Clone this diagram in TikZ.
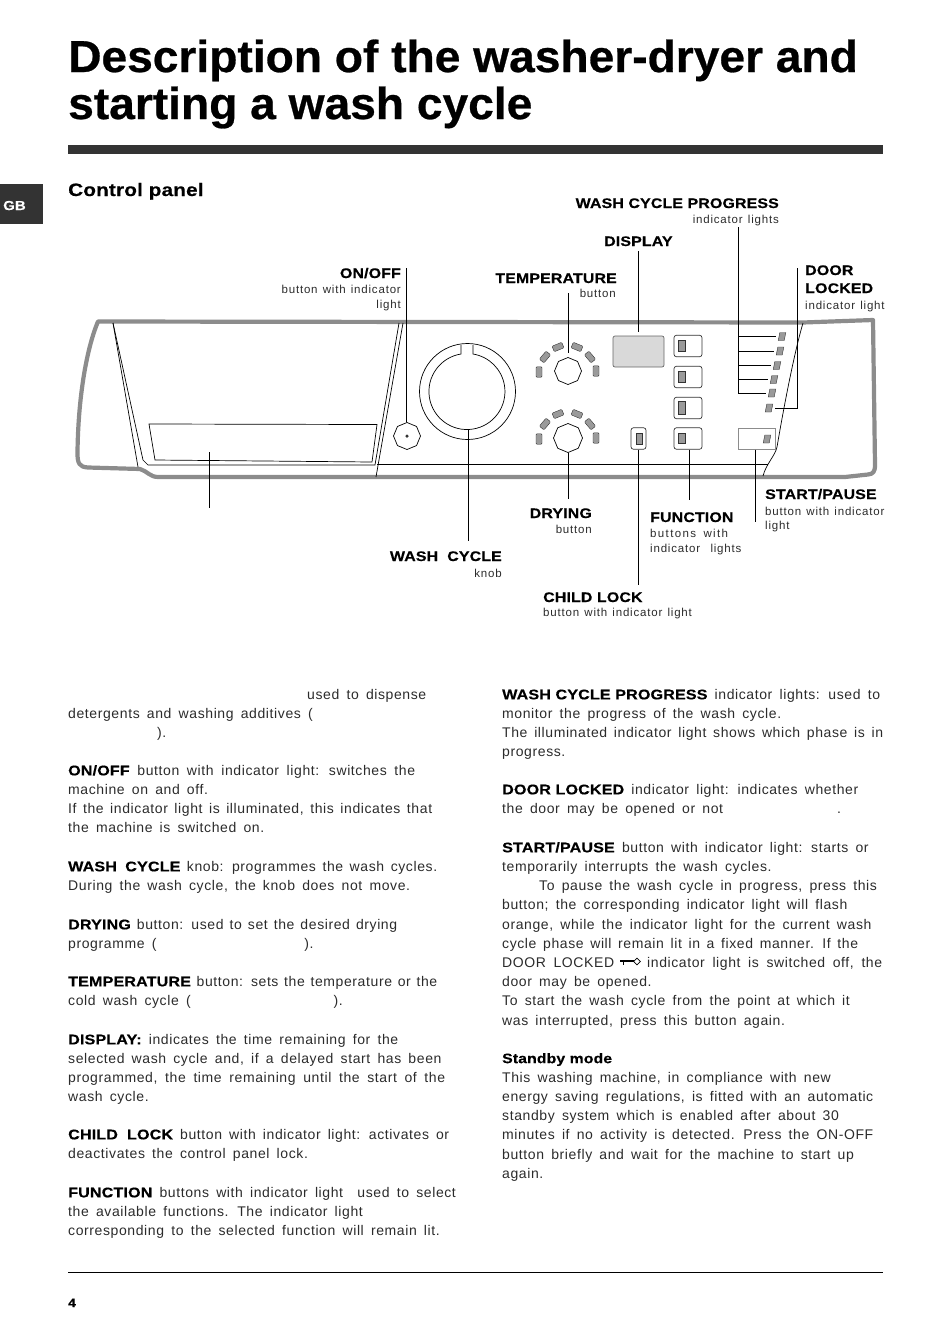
\documentclass[tikz,border=0pt]{standalone}
\usepackage{fontspec}
\usepackage{xcolor}
\usetikzlibrary{shapes.geometric, calc}
\setmainfont{Liberation Sans}
\newfontfamily\bodyfont[LetterSpace=4.3,WordSpace=1.6]{Liberation Sans}
\newfontfamily\subfont[LetterSpace=7,WordSpace=1.3]{Liberation Sans}
\newfontfamily\subwidefont[LetterSpace=12,WordSpace=1.6]{Liberation Sans}
\newfontfamily\widefont[FakeStretch=1.15,LetterSpace=1,FakeBold=.4]{Liberation Sans}
\newfontfamily\titlefont[FakeStretch=1.03,FakeBold=.6]{Liberation Sans}
\definecolor{panelgrey}{HTML}{8C8C8C}
\definecolor{ledgrey}{HTML}{9A9A9A}
\definecolor{displaygrey}{HTML}{D9D9D9}
\definecolor{bardark}{HTML}{333333}
\definecolor{bodytext}{HTML}{2B2B2B}
\newcommand{\hd}[1]{{\widefont\bfseries\color{black}#1}}
\newcommand{\fitline}[2]{\makebox[#1pt][s]{#2}}
\tikzset{
  titletxt/.style={anchor=base west, inner sep=0, font=\fontsize{44.8}{48}\titlefont\bfseries},
  headleft/.style={anchor=base west, inner sep=0, font=\fontsize{13.85}{16}\widefont\bfseries},
  headright/.style={anchor=base east, inner sep=0, font=\fontsize{13.85}{16}\widefont\bfseries},
  subleft/.style={anchor=base west, inner sep=0, text=bodytext, font=\fontsize{11.5}{14}\subfont},
  subright/.style={anchor=base east, inner sep=0, text=bodytext, font=\fontsize{11.5}{14}\subfont},
  subwide/.style={anchor=base west, inner sep=0, text=bodytext, font=\fontsize{11.5}{14}\subwidefont},
  bodytxt/.style={anchor=north west, inner sep=0, align=left, text=bodytext, font=\fontsize{14}{19.2}\bodyfont},
  outline/.style={draw=panelgrey, line width=4.2pt, line join=round},
  thinline/.style={draw=black, line width=.7pt},
  leader/.style={draw=black, line width=.8pt},
  ledbar/.style={draw=black!80, fill=ledgrey, rounded corners=1pt, minimum width=6pt, minimum height=10.5pt, inner sep=0},
  ledslant/.style={draw=black!80, fill=ledgrey, minimum width=6pt, minimum height=8pt, inner sep=0, xslant=.2},
  panelbtn/.style={draw=black!80, rounded corners=2.5pt, line width=.7pt, minimum width=28pt, minimum height=21.5pt, inner sep=0},
  octknob/.style={draw=black, line width=.7pt, regular polygon, regular polygon sides=8, shape border rotate=22.5, inner sep=0},
}
\begin{document}
\begin{tikzpicture}[x=1pt,y=-1pt]
\useasboundingbox (0,0) rectangle (950,1344);
% page head
\node[titletxt] (title1) at (68,72) {Description of the washer-dryer and};
\node[titletxt] (title2) at (68,119) {starting a wash cycle};
\fill[bardark] (68,145) rectangle (883,154);
\fill[bardark] (0,184) rectangle (43,224);
\node[anchor=base west, text=white, inner sep=0, font=\fontsize{13}{14}\widefont\bfseries] (tab) at (3,210) {GB};
\node[anchor=base west, inner sep=0, font=\fontsize{18}{20}\widefont\bfseries] (paneltitle) at (68,196) {Control panel};
% panel outline
\draw[outline] (98,321.5) .. controls (86,350) and (78,400) .. (77.5,453)
  .. controls (77.5,463) and (79,467) .. (88,467.5) -- (140,469)
  .. controls (147,471) and (150,477) .. (158,477) -- (845,477)
  -- (868,474.5) .. controls (873,474) and (875,472) .. (875,465) -- (873,320) -- (803,322.5) -- cycle;
% drawer
\draw[thinline] (113,323) -- (138,467);
\draw[thinline] (113,323) -- (143,460) -- (148,465) -- (375,465) -- (399,323);
\draw[thinline] (403,323) -- (376,477);
\draw[thinline] (149,424) -- (377,424.5) -- (372,462) -- (155,460) -- cycle;
\draw[thinline] (377,464) -- (768,464);
\draw[thinline] (803,323) .. controls (795,350) and (785,400) .. (777,447) .. controls (775,456) and (766,464) .. (763,476);
% knobs
\node[octknob, minimum size=27pt] (onoffbtn) at (407,436) {};
\node[circle, fill=black!80, minimum size=3.5pt, inner sep=0] (onoffled) at (407,436) {};
\node[draw=black, line width=.7pt, circle, minimum size=96pt, inner sep=0] (washknob) at (467.5,391.5) {};
\draw[thinline] (461,345) -- (461,354) arc[start angle=99, end angle=441, radius=38pt] -- (473,345);
\node[octknob, minimum size=27pt] (tempknob) at (568,371) {};
\node[octknob, minimum size=29pt] (dryknob) at (568,438) {};
\foreach \rw/\dy in {t/0,d/67} {
  \node[ledbar] (led\rw1) at (539,372+\dy) {};
  \node[ledbar, rotate=-40] (led\rw2) at (545,357+\dy) {};
  \node[ledbar, rotate=-68] (led\rw3) at (558,347+\dy) {};
  \node[ledbar, rotate=68] (led\rw4) at (577,347+\dy) {};
  \node[ledbar, rotate=40] (led\rw5) at (590,357+\dy) {};
  \node[ledbar] (led\rw6) at (596,371+\dy) {};
}
% display and buttons
\node[draw=black!60, fill=displaygrey, rounded corners=2pt, line width=.7pt, minimum width=51pt, minimum height=31pt, inner sep=0] (display) at (638.5,351.5) {};
\foreach \n/\yb/\hl in {1/346/11,2/377/11,3/408/13,4/438.5/10} {
  \node[panelbtn] (fnbtn\n) at (688,\yb) {};
  \node[ledbar, rounded corners=0pt, minimum width=6.5pt, minimum height=\hl pt] (fnled\n) at (681.5,\yb-.5) {};
}
\node[panelbtn, minimum width=15pt] (childbtn) at (638.5,438.5) {};
\node[ledbar, rounded corners=0pt, minimum width=6.5pt, minimum height=11pt] (childled) at (639,438.5) {};
\node[draw=panelgrey, line width=1pt, minimum width=37pt, minimum height=21pt, inner sep=0] (startbtn) at (757,438.5) {};
\node[ledslant] (startled) at (767,439) {};
\node[ledslant] (progled1) at (782,336.5) {};
\node[ledslant] (progled2) at (780,351) {};
\node[ledslant] (progled3) at (777,365.5) {};
\node[ledslant] (progled4) at (774,379.5) {};
\node[ledslant] (progled5) at (772,393) {};
\node[ledslant] (doorled) at (769,408) {};
% panel labels
\node[headright] (onofflab) at (401,278) {ON/OFF};
\node[subright] (onoffsub) at (401,293) {button with indicator};
\node[subright] (onoffsub2) at (401,308) {light};
\node[headright] (templab) at (617,283) {TEMPERATURE};
\node[subright] (tempsub) at (616,297) {button};
\node[headright] (proglab) at (779,208) {WASH CYCLE PROGRESS};
\node[subright] (progsub) at (779,223) {indicator lights};
\node[headleft] (displaylab) at (604,246) {DISPLAY};
\node[headleft] (doorlab) at (805,275) {DOOR};
\node[headleft] (doorlab2) at (805,293) {LOCKED};
\node[subleft] (doorsub) at (805,309) {indicator light};
\node[headright] (drylab) at (592,518) {DRYING};
\node[subright] (drysub) at (592,533) {button};
\node[headleft] (fnlab) at (650,522) {FUNCTION};
\node[subwide] (fnsub) at (650,537) {buttons with};
\node[subleft] (fnsub2) at (650,552) {indicator\ \ lights};
\node[headleft] (startlab) at (765,499) {START/PAUSE};
\node[subleft] (startsub) at (765,515) {button with indicator};
\node[subleft] (startsub2) at (765,529) {light};
\node[headright] (washlab) at (502,561) {WASH\ \ CYCLE};
\node[subright] (washsub) at (502,577) {knob};
\node[headleft] (childlab) at (543,602) {CHILD LOCK};
\node[subleft] (childsub) at (543,616) {button with indicator light};
% leaders
\coordinate (onoffend) at (406.5,268);
\coordinate (tempend) at (568,293);
\coordinate (displayend) at (638.5,251);
\coordinate (progend) at (738,227);
\coordinate (doorend) at (797,268);
\coordinate (drawerend) at (209.5,508);
\coordinate (drawertop) at (209.5,452);
\coordinate (washend) at (468.5,541);
\coordinate (dryend) at (568,499);
\coordinate (childend) at (638.5,585);
\coordinate (fnend) at (689,500);
\coordinate (startend) at (755,522);
\draw[leader] (onoffend) -- (onoffend |- onoffbtn.north);
\draw[leader, shorten >=4pt] (tempend) -- (tempknob.north);
\draw[leader, shorten >=4pt] (displayend) -- (displayend |- display.north);
\draw[leader] (progend) -- (progend |- progled5);
\foreach \n in {1,...,5} {
  \draw[leader, shorten >=3pt] (progend |- progled\n) -- (progled\n.west);
}
\draw[leader, shorten >=3pt] (doorend) -- (doorend |- doorled) -- (doorled.east);
\draw[leader] (drawertop) -- (drawerend);
\draw[leader] (washend |- 0,430) -- (washend);
\draw[leader] (dryknob.south) -- (dryend);
\draw[leader] (childbtn.south) -- (childend);
\draw[leader] (fnend |- fnbtn4.south) -- (fnend);
\draw[leader] (startend |- startbtn.south) -- (startend);
% left column
\node[bodytxt] (txtdrawer) at (68,689) {\hspace*{239pt}used to dispense\\detergents and washing additives (\\\hspace*{89pt}).};
\node[bodytxt] (txtonoff) at (68,765) {\fitline{347}{\hd{ON/OFF} button with indicator light: switches the}\\machine on and off.\\\fitline{364}{If the indicator light is illuminated, this indicates that}\\the machine is switched on.};
\node[bodytxt] (txtwash) at (68,861) {\fitline{369}{\hd{WASH\ \ CYCLE} knob: programmes the wash cycles.}\\During the wash cycle, the knob does not move.};
\node[bodytxt] (txtdry) at (68,919) {\fitline{329}{\hd{DRYING} button: used to set the desired drying}\\programme (\hspace*{148pt}).};
\node[bodytxt] (txttemp) at (68,976) {\fitline{369}{\hd{TEMPERATURE} button: sets the temperature or the}\\cold wash cycle (\hspace*{143pt}).};
\node[bodytxt] (txtdisplay) at (68,1034) {\hd{DISPLAY:} indicates the time remaining for the\\selected wash cycle and, if a delayed start has been\\\fitline{377}{programmed, the time remaining until the start of the}\\wash cycle.};
\node[bodytxt] (txtchild) at (68,1129) {\fitline{381}{\hd{CHILD\ \ LOCK} button with indicator light: activates or}\\deactivates the control panel lock.};
\node[bodytxt] (txtfn) at (68,1187) {\hd{FUNCTION} buttons with indicator light\ \ used to select\\the available functions. The indicator light\\corresponding to the selected function will remain lit.};
% right column
\node[bodytxt] (txtprog) at (502,689) {\hd{WASH CYCLE PROGRESS} indicator lights: used to\\monitor the progress of the wash cycle.\\\fitline{381}{The illuminated indicator light shows which phase is in}\\progress.};
\node[bodytxt] (txtdoor) at (502,784) {\hd{DOOR LOCKED} indicator light: indicates whether\\the door may be opened or not\hspace*{114pt}.};
\node[bodytxt] (txtstart) at (502,842) {\hd{START/PAUSE} button with indicator light: starts or\\temporarily interrupts the wash cycles.\\\hspace*{37pt}To pause the wash cycle in progress, press this\\button; the corresponding indicator light will flash\\orange, while the indicator light for the current wash\\\fitline{356}{cycle phase will remain lit in a fixed manner. If the}\\\fitline{380}{DOOR LOCKED\hspace*{33pt}indicator light is switched off, the}\\door may be opened.\\To start the wash cycle from the point at which it\\was interrupted, press this button again.};
\node[bodytxt] (txtstandby) at (502,1053) {\hd{\fontsize{13.7}{19.2}\selectfont Standby mode}\\This washing machine, in compliance with new\\energy saving regulations, is fitted with an automatic\\standby system which is enabled after about 30\\minutes if no activity is detected. Press the ON-OFF\\button briefly and wait for the machine to start up\\again.};
% key symbol
\draw[line width=1.6pt] (620,961) -- (634,961);
\draw[line width=1pt] (623,961) -- (623,965);
\node[draw=black, line width=.7pt, diamond, minimum size=7pt, inner sep=0] (keyhead) at (637,961.5) {};
% page foot
\draw[line width=1.5pt] (68,1272.5) -- (883,1272.5);
\node[anchor=base west, inner sep=0, font=\fontsize{12}{13}\widefont\bfseries] (pagenum) at (68,1307) {4};
\end{tikzpicture}
\end{document}
